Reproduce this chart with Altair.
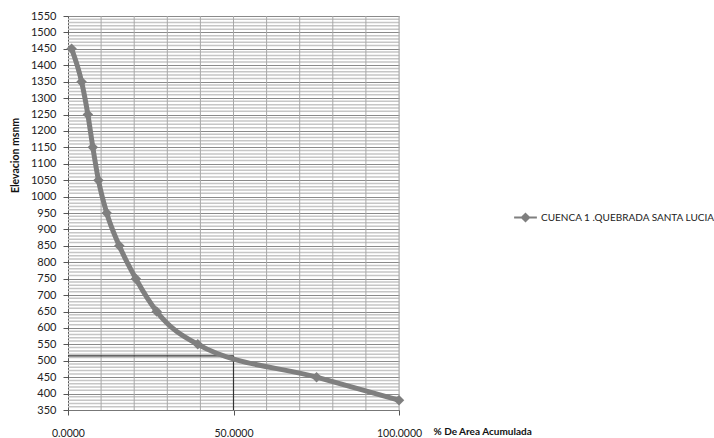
import altair as alt
import pandas as pd

# data
area_pct = [1.1, 4.1, 6.0, 7.5, 9.2, 11.7, 15.5, 20.5, 26.8, 39.2, 75.1, 100.0]
elevation = [1450, 1350, 1250, 1150, 1050, 950, 850, 750, 650, 550, 450, 380]
series_name = "CUENCA 1 .QUEBRADA SANTA LUCIA"
median_x = [0, 50]
median_y = [515, 515]
vert_x = [50, 50]
vert_y = [350, 515]
x_ticks = [0, 50, 100]
y_ticks = list(range(350, 1551, 50))
minor_y = [v for v in range(350, 1551, 10) if v % 50 != 0]
vgrid_x = list(range(10, 101, 10))

FONT = "Lato"

df = pd.DataFrame({"x": area_pct, "y": elevation, "s": [series_name] * len(area_pct)})
xs = alt.Scale(domain=[0, 100], nice=False, zero=False)
ys = alt.Scale(domain=[350, 1550], nice=False, zero=False)

AX_X = alt.Axis(
    values=x_ticks, format=".4f", grid=False, title="% De Area Acumulada",
    labelOverlap=False, labelFlush=False,
    titleX=365, titleY=21, titleAnchor="start", titleAlign="left",
    titleBaseline="middle", titleFont=FONT, titleFontSize=10, titleFontWeight="bold",
    titleColor="#111", labelFont=FONT, labelFontSize=10.5, labelColor="#222",
    labelPadding=13, tickSize=5, tickColor="#555", domainColor="#777",
)
AX_Y = alt.Axis(
    values=y_ticks, format="d", labelOverlap=False, labelFlush=False, grid=True,
    gridColor="#8a8a8a", gridWidth=1,
    title="Elevacion  msnm", titleX=-53, titleY=139, titleAngle=-90,
    titleAnchor="middle", titleAlign="center", titleBaseline="middle",
    titleFont=FONT, titleFontSize=10.5, titleFontWeight="bold", titleColor="#111",
    labelFont=FONT, labelFontSize=11, labelColor="#222", labelPadding=7,
    tickSize=5, tickColor="#555", domainColor="#555",
)

def X(f="x:Q"):
    return alt.X(f, scale=xs, axis=AX_X)

def Y(f="y:Q"):
    return alt.Y(f, scale=ys, axis=AX_Y)

base_axes = alt.Chart(pd.DataFrame({"x": [0], "y": [350]})).mark_point(opacity=0).encode(
    x=X(), y=Y()
)

minor = alt.Chart(pd.DataFrame({"y": minor_y})).mark_rule(
    color="#c6c6c6", strokeWidth=1.5
).encode(y=Y())

vgrid = alt.Chart(pd.DataFrame({"x": vgrid_x})).mark_rule(
    color="#a8a8a8", strokeWidth=1
).encode(x=X())

hline = alt.Chart(pd.DataFrame({"x": median_x, "y": median_y})).mark_line(
    color="#333333", strokeWidth=1.2
).encode(x=X(), y=Y())

vline = alt.Chart(pd.DataFrame({"x": vert_x, "y": vert_y})).mark_line(
    color="#333333", strokeWidth=1.2
).encode(x=X(), y=Y())

color = alt.Color("s:N", scale=alt.Scale(range=["#7f7f7f"]), title=None,
                  legend=alt.Legend(
                      orient="none", legendX=445, legendY=189,
                      symbolType="M-1,0L1,0M0,-0.32L0.32,0L0,0.32L-0.32,0Z",
                      symbolSize=520, symbolStrokeWidth=2, symbolFillColor="#7f7f7f",
                      labelFont=FONT, labelFontSize=10, labelColor="#222",
                      labelOffset=3, labelLimit=300,
                  ))

curve = alt.Chart(df).mark_line(
    strokeWidth=5, interpolate="monotone"
).encode(x=X(), y=Y(), color=color, order=alt.Order("x:Q"))

pts = alt.Chart(df).mark_point(
    shape="diamond", filled=True, size=110, opacity=1
).encode(x=X(), y=Y(), color=alt.Color("s:N", scale=alt.Scale(range=["#7f7f7f"]), legend=None))

chart = alt.layer(base_axes, minor, vgrid, hline, vline, curve, pts).properties(
    width=331, height=394,
    autosize=alt.AutoSizeParams(type="none"),
    padding={"left": 68, "top": 16, "right": 315, "bottom": 28},
).configure_view(stroke=None).configure(background="white")

chart.save("out.html", embed_options={"renderer": "svg", "actions": False})
